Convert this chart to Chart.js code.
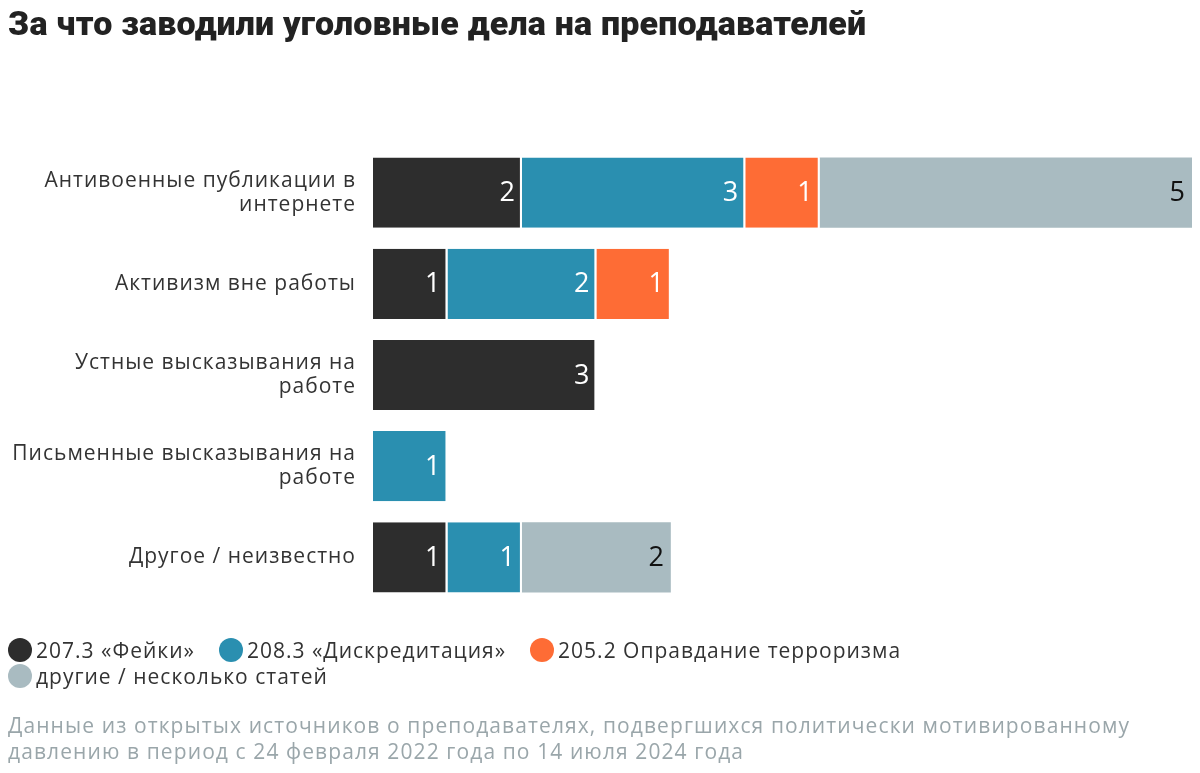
<!DOCTYPE html>
<html lang="ru">
<head>
<meta charset="utf-8">
<script src="https://cdn.jsdelivr.net/npm/chart.js@4"></script>
<style>
  html, body { margin: 0; padding: 0; background: #fff; }
  #wrap { position: relative; width: 1200px; height: 773px; overflow: hidden; }
  #chart { position: absolute; left: 0; top: 0; }
  #title {
    position: absolute; left: 8px; top: 3px;
    font-family: Roboto, sans-serif; font-weight: 900; font-size: 34px;
    color: #222; letter-spacing: 0.2px; white-space: nowrap;
  }
  #legend {
    position: absolute; left: 8px; top: 637px; width: 920px;
    display: flex; flex-wrap: wrap;
    font-family: 'Open Sans', sans-serif; font-size: 21px; letter-spacing: 1px; color: #333;
  }
  #legend .item { display: flex; align-items: center; margin-right: 24px; height: 26px; }
  #legend .dot { width: 24px; height: 24px; border-radius: 50%; margin-right: 4px; }
  #note {
    position: absolute; left: 8px; top: 712px; width: 1190px;
    font-family: 'Open Sans', sans-serif; font-size: 21px; letter-spacing: 1.1px; line-height: 26px;
    color: #9aa6aa;
  }
</style>
</head>
<body>
<div id="wrap">
  <canvas id="chart" width="1200" height="773"></canvas>
  <div id="title">За что заводили уголовные дела на преподавателей</div>
  <div id="legend"></div>
  <div id="note">Данные из открытых источников о преподавателях, подвергшихся политически мотивированному давлению в период с 24 февраля 2022 года по 14 июля 2024 года</div>
</div>
<script>
(function() {
  const categories = [
    ['Антивоенные публикации в', 'интернете'],
    'Активизм вне работы',
    ['Устные высказывания на', 'работе'],
    ['Письменные высказывания на', 'работе'],
    'Другое / неизвестно'
  ];
  const seriesNames = [
    '207.3 «Фейки»',
    '208.3 «Дискредитация»',
    '205.2 Оправдание терроризма',
    'другие / несколько статей'
  ];
  const fakes = [2, 1, 3, 0, 1];
  const discredit = [3, 2, 0, 1, 1];
  const terror = [1, 1, 0, 0, 0];
  const other = [5, 0, 0, 0, 2];

  const colors = ['#2d2d2d', '#2a8fb0', '#fe6c35', '#a9bbc1'];
  const labelColors = ['#fff', '#fff', '#fff', '#111'];
  const values = [fakes, discredit, terror, other];

  // legend as html
  const legendEl = document.getElementById('legend');
  seriesNames.forEach((name, i) => {
    const item = document.createElement('div');
    item.className = 'item';
    item.innerHTML = '<span class="dot" style="background:' + colors[i] + '"></span><span>' + name + '</span>';
    legendEl.appendChild(item);
  });

  // wider tracking for the category labels (closer to the original font)
  const spacing = {
    id: 'spacing',
    beforeDraw(chart) { chart.ctx.letterSpacing = '1px'; },
    beforeDatasetsDraw(chart) { chart.ctx.letterSpacing = '0px'; }
  };

  const valueLabels = {
    id: 'valueLabels',
    afterDatasetsDraw(chart) {
      const ctx = chart.ctx;
      ctx.save();
      ctx.font = '400 27px "Open Sans", sans-serif';
      ctx.textAlign = 'right';
      ctx.textBaseline = 'middle';
      chart.data.datasets.forEach((ds, di) => {
        const meta = chart.getDatasetMeta(di);
        meta.data.forEach((bar, i) => {
          const v = ds.data[i];
          if (!v) return;
          ctx.fillStyle = labelColors[di];
          ctx.fillText(String(v), bar.x - 7, bar.y + 1);
        });
      });
      ctx.restore();
    }
  };

  const ctx = document.getElementById('chart').getContext('2d');
  new Chart(ctx, {
    type: 'bar',
    data: {
      labels: categories,
      datasets: values.map((arr, i) => ({
        label: seriesNames[i],
        data: arr,
        backgroundColor: colors[i],
        borderColor: '#fff',
        borderWidth: { left: 0, right: i === 3 ? 0 : 2, top: 0, bottom: 0 },
        borderSkipped: false,
        barPercentage: 0.77,
        categoryPercentage: 1
      }))
    },
    options: {
      indexAxis: 'y',
      responsive: false,
      animation: false,
      layout: { padding: { left: 8, right: 8, top: 147, bottom: 170 } },
      scales: {
        x: { stacked: true, display: false, min: 0, max: 11 },
        y: {
          stacked: true,
          grid: { display: false, drawTicks: false },
          border: { display: false },
          afterFit: s => { s.width = 365; },
          ticks: {
            color: '#333',
            padding: 17,
            font: { family: '"Open Sans", sans-serif', size: 21, lineHeight: 1.15 }
          }
        }
      },
      plugins: {
        legend: { display: false },
        tooltip: { enabled: false }
      }
    },
    plugins: [spacing, valueLabels]
  });
})();
</script>
</body>
</html>
